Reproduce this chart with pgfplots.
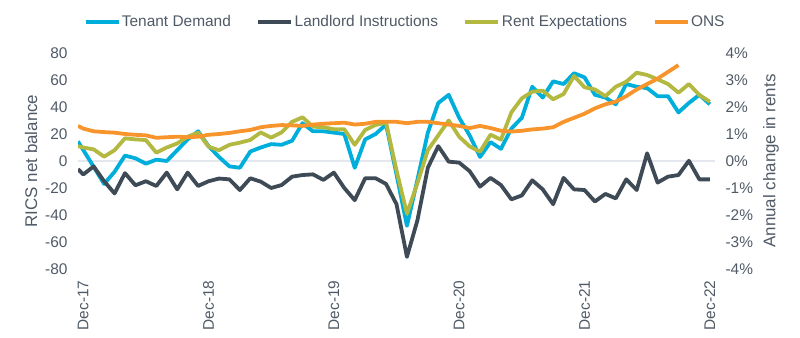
\documentclass[border=0pt]{standalone}
\usepackage{fontspec}
\setmainfont{Liberation Sans}
\usepackage{pgfplots}
\pgfplotsset{compat=1.18}
\definecolor{cTen}{RGB}{0,174,219}
\definecolor{cLand}{RGB}{62,75,86}
\definecolor{cRent}{RGB}{178,184,64}
\definecolor{cONS}{RGB}{248,148,44}
\definecolor{cTxt}{RGB}{80,90,102}
\definecolor{cZero}{RGB}{228,232,238}
\begin{document}
\begin{tikzpicture}[x=1bp,y=1bp]
\useasboundingbox (0,0) rectangle (800,337);
\pgfplotsset{
 base/.style={
  at={(78bp,68bp)}, anchor=south west,
  scale only axis, width=637bp, height=216bp,
  xmin=-0.5, xmax=60.5,
  axis line style={draw=none},
  major tick style={draw=none},
  tick label style={font=\fontsize{15.5}{17}\selectfont, text=cTxt},
  label style={font=\fontsize{17}{19}\selectfont, text=cTxt},
 }
}
\begin{axis}[base,
  ymin=-80, ymax=80,
  ytick={-80,-60,-40,-20,0,20,40,60,80},
  yticklabels={-80,-60,-40,-20,0,20,40,60,80},
  yticklabel style={xshift=-7bp},
  xtick={0,12,24,36,48,60},
  xticklabels={Dec-17,Dec-18,Dec-19,Dec-20,Dec-21,Dec-22},
  xticklabel style={yshift=-8bp, rotate=90, anchor=east},
  ylabel={RICS net balance},
  ylabel style={at={(axis description cs:-0.0738,0.5)}, anchor=center, rotate=0},
  legend columns=4,
  legend style={at={(axis description cs:0.513,1.144)}, anchor=center, draw=none, fill=none,
    font=\fontsize{15.5}{17}\selectfont, text=cTxt,
    /tikz/every even column/.append style={column sep=24bp},
    /tikz/every node/.append style={inner xsep=1.5bp}},
  legend image code/.code={\draw[#1] (0bp,0bp) -- (33bp,0bp);},
  every axis plot/.append style={line width=3.8bp, line join=round},
]
\addplot[cZero, line width=1.5bp, forget plot] coordinates {(-0.5,0) (60.5,0)};
\addplot[cTen] coordinates {
(-0.5,14.5) (0,8.2) (1,-4.3) (2,-17) (3,-8) (4,4) (5,2) (6,-2) (7,1) (8,0) (9,8) (10,16) (11,22) (12,11) (13,3) (14,-4) (15,-5) (16,7) (17,10) (18,12.5) (19,12) (20,15) (21,28) (22,22) (23,22) (24,21) (25,20) (26,-5) (27,16) (28,20) (29,27) (30,-10) (31,-48) (32,-14) (33,21) (34,43) (35,49) (36,32) (37,19) (38,3) (39,14) (40,9) (41,24) (42,32) (43,55) (44,47) (45,59) (46,57) (47,65) (48,62) (49,49) (50,47) (51,42) (52,57) (53,55) (54,54) (55,48) (56,48) (57,36) (58,43) (59,49) (60,42)
};
\addlegendentry{Tenant Demand}
\addplot[cLand] coordinates {
(-0.5,-6) (0,-10) (1,-4) (2,-15) (3,-24) (4,-9) (5,-18) (6,-15) (7,-18.5) (8,-8.6) (9,-21) (10,-8.6) (11,-18.5) (12,-15) (13,-13) (14,-13.6) (15,-21.5) (16,-12.8) (17,-15.3) (18,-20) (19,-17.8) (20,-11.6) (21,-10.4) (22,-9.9) (23,-14) (24,-8.6) (25,-20) (26,-29) (27,-12.8) (28,-12.8) (29,-17) (30,-32) (31,-71) (32,-44) (33,-5) (34,11) (35,-0.5) (36,-1.2) (37,-7.5) (38,-19) (39,-12.5) (40,-17.8) (41,-28.4) (42,-25.5) (43,-14.3) (44,-21) (45,-32) (46,-12.5) (47,-21) (48,-21.5) (49,-30) (50,-24.4) (51,-27.7) (52,-13.6) (53,-21.5) (54,5.7) (55,-16) (56,-11.6) (57,-10.4) (58,0.2) (59,-13.6) (60,-13.6)
};
\addlegendentry{Landlord Instructions}
\addplot[cRent] coordinates {
(-0.5,11) (0,10) (1,8.6) (2,3.2) (3,8) (4,16.8) (5,16) (6,15.5) (7,6.2) (8,10) (9,13) (10,18) (11,21) (12,10.6) (13,8) (14,12) (15,13.6) (16,15.6) (17,21.2) (18,17.3) (19,21.2) (20,29) (21,32.4) (22,25.4) (23,25) (24,23.5) (25,23.5) (26,12) (27,23) (28,26.7) (29,28.4) (30,-7) (31,-39) (32,-16.5) (33,8) (34,19) (35,30) (36,18) (37,10.8) (38,6.9) (39,19.5) (40,15.8) (41,36) (42,46.4) (43,51.3) (44,52.1) (45,45.7) (46,49.6) (47,63) (48,54.6) (49,53) (50,48) (51,55) (52,58.7) (53,65.4) (54,63.7) (55,60.5) (56,57) (57,50.6) (58,57) (59,48.9) (60,43.9)
};
\addlegendentry{Rent Expectations}
\addlegendimage{cONS, line width=3.8bp}
\addlegendentry{ONS}
\end{axis}
\begin{axis}[base,
  axis x line=none,
  axis y line*=right,
  ymin=-4, ymax=4,
  ytick={-4,-3,-2,-1,0,1,2,3,4},
  yticklabels={-4\%,-3\%,-2\%,-1\%,0\%,1\%,2\%,3\%,4\%},
  yticklabel style={xshift=7bp},
  ylabel={Annual change in rents},
  ylabel style={at={(axis description cs:1.088,0.5)}, anchor=center, rotate=0},
]
\addplot[cONS, line width=3.8bp, line join=round] coordinates {
(-0.5,1.3) (0,1.2) (1,1.1) (2,1.07) (3,1.05) (4,1.0) (5,0.97) (6,0.95) (7,0.86) (8,0.88) (9,0.9) (10,0.88) (11,0.9) (12,0.97) (13,1.0) (14,1.04) (15,1.1) (16,1.15) (17,1.25) (18,1.3) (19,1.33) (20,1.32) (21,1.3) (22,1.35) (23,1.38) (24,1.4) (25,1.42) (26,1.35) (27,1.38) (28,1.45) (29,1.45) (30,1.45) (31,1.4) (32,1.45) (33,1.45) (34,1.4) (35,1.35) (36,1.3) (37,1.22) (38,1.3) (39,1.22) (40,1.12) (41,1.09) (42,1.12) (43,1.17) (44,1.2) (45,1.25) (46,1.45) (47,1.6) (48,1.75) (49,1.95) (50,2.1) (51,2.2) (52,2.4) (53,2.65) (54,2.85) (55,3.05) (56,3.3) (57,3.55)
};
\end{axis}
\end{tikzpicture}
\end{document}
